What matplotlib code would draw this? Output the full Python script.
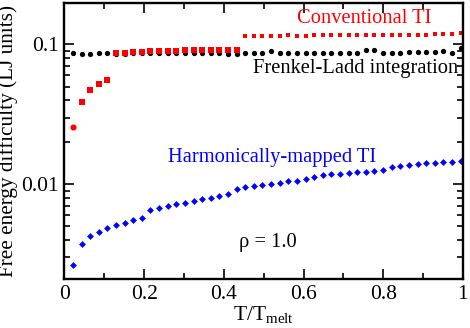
import numpy as np
import matplotlib.pyplot as plt
from matplotlib.ticker import MultipleLocator, LogLocator, NullFormatter, FixedLocator, FixedFormatter

# ----------------------------
# DATA
# ----------------------------
T = [0.022, 0.043, 0.065, 0.086, 0.108, 0.130, 0.151, 0.173, 0.194, 0.216,
     0.238, 0.259, 0.281, 0.302, 0.324, 0.346, 0.367, 0.389, 0.410, 0.432,
     0.454, 0.475, 0.497, 0.518, 0.540, 0.562, 0.583, 0.605, 0.626, 0.648,
     0.670, 0.691, 0.713, 0.734, 0.756, 0.778, 0.799, 0.821, 0.842, 0.864,
     0.886, 0.907, 0.929, 0.950, 0.972, 0.994]

frenkel_ladd = [0.0863, 0.0859, 0.0859, 0.0873, 0.0868, 0.0855, 0.0853, 0.0865, 0.0865, 0.0865,
                0.0865, 0.0865, 0.0865, 0.0865, 0.0868, 0.0868, 0.0865, 0.0862, 0.0860, 0.0860,
                0.0872, 0.0872, 0.0872, 0.0896, 0.0862, 0.0862, 0.0870, 0.0870, 0.0870, 0.0870,
                0.0870, 0.0870, 0.0870, 0.0870, 0.0910, 0.0917, 0.0875, 0.0872, 0.0870, 0.0878,
                0.0880, 0.0885, 0.0890, 0.0900, 0.0875, 0.0940]

conventional_ti = [0.0258, 0.0390, 0.0472, 0.0524, 0.0559, 0.0867, 0.0867, 0.0880, 0.0881, 0.0896,
                   0.0896, 0.0896, 0.0900, 0.0911, 0.0911, 0.0917, 0.0917, 0.0917, 0.0917, 0.0917,
                   0.1150, 0.1150, 0.1152, 0.1155, 0.1158, 0.1160, 0.1155, 0.1158, 0.1160, 0.1170,
                   0.1165, 0.1162, 0.1162, 0.1165, 0.1168, 0.1168, 0.1170, 0.1172, 0.1170, 0.1170,
                   0.1175, 0.1175, 0.1178, 0.1182, 0.1195, 0.1205]

harmonic_ti = [0.00265, 0.00373, 0.00425, 0.00459, 0.00485, 0.00510, 0.00532, 0.00555, 0.00578, 0.00652,
               0.00674, 0.00700, 0.00720, 0.00740, 0.00765, 0.00781, 0.00798, 0.00821, 0.00849, 0.00931,
               0.00952, 0.00973, 0.00995, 0.0101, 0.0103, 0.0105, 0.0106, 0.0109, 0.0112, 0.0116,
               0.0118, 0.0119, 0.0120, 0.0122, 0.0123, 0.0124, 0.0126, 0.0134, 0.0136, 0.0138,
               0.0140, 0.0141, 0.0143, 0.0144, 0.0145, 0.0147]

x_ticks = [0, 0.2, 0.4, 0.6, 0.8, 1.0]
x_ticklabels = ["0", "0.2", "0.4", "0.6", "0.8", "1"]
y_ticks = [0.01, 0.1]
y_ticklabels = ["0.01", "0.1"]

# ----------------------------
# STYLE
# ----------------------------
plt.rcParams['font.family'] = ['Liberation Serif', 'DejaVu Serif']
plt.rcParams['mathtext.fontset'] = 'custom'
plt.rcParams['mathtext.rm'] = 'Liberation Serif'
plt.rcParams['mathtext.it'] = 'Liberation Serif:italic'

fig = plt.figure(figsize=(4.7, 3.28), dpi=100)
ax = fig.add_axes([0.137, 0.149, 0.848, 0.842])

# ----------------------------
# PLOT
# ----------------------------
ax.plot(T, frenkel_ladd, 'o', color='black', ms=3.8, mew=0)
ax.plot(T[:1], conventional_ti[:1], 'o', color='red', ms=4.4, mew=0)
ax.plot(T[1:20], conventional_ti[1:20], 's', color='red', ms=3.9, mew=0)
ax.plot(T[20:], conventional_ti[20:], 's', color='red', ms=3.1, mew=0)
ax.plot(T, harmonic_ti, 'D', color='blue', ms=3.5, mew=0)

ax.set_yscale('log')
ax.set_xlim(0, 1)
ax.set_ylim(0.0021, 0.198)

ax.set_xticks(x_ticks)
ax.set_xticklabels(x_ticklabels)
ax.xaxis.set_minor_locator(MultipleLocator(0.1))
ax.yaxis.set_major_locator(FixedLocator(y_ticks))
ax.yaxis.set_major_formatter(FixedFormatter(y_ticklabels))
ax.yaxis.set_minor_locator(LogLocator(base=10, subs=np.arange(2, 10)))
ax.yaxis.set_minor_formatter(NullFormatter())

ax.tick_params(which='both', direction='in', top=True, right=True, labelsize=15.5, width=1.2, pad=4)
ax.tick_params(which='major', length=7)
ax.tick_params(which='minor', length=4)
for s in ax.spines.values():
    s.set_linewidth(1.7)

ax.set_xlabel("T/T$_{\\mathrm{melt}}$", fontsize=15.5, labelpad=0)
ax.set_ylabel("Free energy difficulty (LJ units)", fontsize=15.3, labelpad=2)

ax.text(0.752, 0.154, "Conventional TI", color='red', fontsize=14.8, ha='center', va='center')
ax.text(0.730, 0.0676, "Frenkel-Ladd integration", color='black', fontsize=14.8, ha='center', va='center')
ax.text(0.520, 0.0156, "Harmonically-mapped TI", color='blue', fontsize=14.8, ha='center', va='center')
ax.text(0.510, 0.00385, "ρ = 1.0", color='black', fontsize=14.8, ha='center', va='center')

plt.savefig("out.png", dpi=100)
